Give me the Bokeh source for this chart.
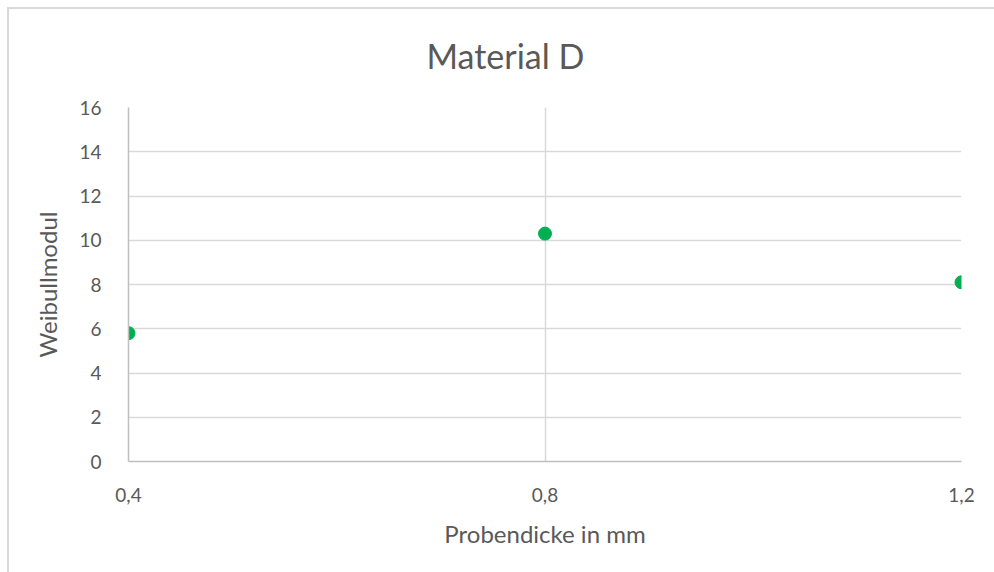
from bokeh.plotting import figure
from bokeh.models import FixedTicker, CustomJSTickFormatter, Range1d
from bokeh.embed import file_html
from bokeh.resources import INLINE

# Weibull modulus of material D over specimen thickness
thickness_mm = [0.4, 0.8, 1.2]
weibull_modulus = [5.8, 10.3, 8.1]

x_ticks = [0.4, 0.8, 1.2]
y_ticks = [0, 2, 4, 6, 8, 10, 12, 14, 16]

FONT = "Lato"
TEXT = "#595959"
GRID = "#d9d9d9"

# outer chart-area frame (left and top edges) painted behind a transparent canvas
chart_area = ("linear-gradient(#d9d9d9, #d9d9d9) 7px 7px / 2px 100% no-repeat, "
              "linear-gradient(#d9d9d9, #d9d9d9) 7px 7px / 100% 2px no-repeat, white")

p = figure(width=994, height=572, output_backend="svg", toolbar_location=None,
           x_range=Range1d(0.4, 1.2), y_range=Range1d(0, 16),
           min_border_left=128, min_border_right=33, min_border_top=107, min_border_bottom=111,
           styles={"background": chart_area})
p.outline_line_color = None
p.background_fill_color = "white"
p.border_fill_color = None

p.title.text = "Material D"
p.title.align = "left"
p.title.text_font = FONT
p.title.text_font_size = "34px"
p.title.text_font_style = "normal"
p.title.text_color = TEXT
p.title.offset = 298
p.title.standoff = 63

p.scatter(thickness_mm, weibull_modulus, size=13, color="#00b050")

# decimal comma tick labels
comma = CustomJSTickFormatter(code="return tick.toFixed(1).replace('.', ',');")

p.xaxis.ticker = FixedTicker(ticks=x_ticks)
p.xaxis.formatter = comma
p.yaxis.ticker = FixedTicker(ticks=y_ticks)

for ax in (p.xaxis, p.yaxis):
    ax.axis_line_color = "#bfbfbf"
    ax.axis_line_width = 1.5
    ax.major_tick_line_color = None
    ax.minor_tick_line_color = None
    ax.major_label_text_font = FONT
    ax.major_label_text_font_size = "19px"
    ax.major_label_text_color = TEXT
    ax.axis_label_text_font = FONT
    ax.axis_label_text_font_size = "24px"
    ax.axis_label_text_font_style = "normal"
    ax.axis_label_text_color = TEXT

p.xaxis.major_label_standoff = 20
p.yaxis.major_label_standoff = 21
p.xaxis.axis_label = "Probendicke in mm"
p.yaxis.axis_label = "Weibullmodul"
p.xaxis.axis_label_standoff = 14
p.yaxis.axis_label_standoff = 14

p.xgrid.ticker = FixedTicker(ticks=x_ticks)
p.ygrid.ticker = FixedTicker(ticks=y_ticks)
p.xgrid.grid_line_color = GRID
p.ygrid.grid_line_color = GRID
p.xgrid.grid_line_width = 1.5
p.ygrid.grid_line_width = 1.5

open("out.html", "w").write(file_html(p, INLINE))
